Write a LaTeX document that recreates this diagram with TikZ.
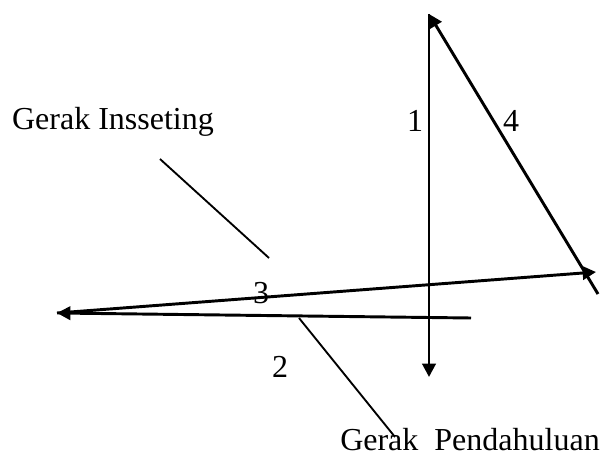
\documentclass[tikz,border=0pt]{standalone}
\usepackage{fontspec}
\setmainfont{Liberation Serif}
\usetikzlibrary{positioning, arrows.meta}

\begin{document}
\begin{tikzpicture}[x=0.375pt, y=-0.375pt, font=\fontsize{12}{14}\selectfont,
  move/.style={line width=1.1pt, -{Triangle[length=5pt, width=5pt]}},
  pointer/.style={line width=0.7pt}]
\useasboundingbox (0,0) rectangle (606,456);

% ends of the movement lines
\coordinate (top) at (429,14);
\coordinate (bottom) at (429,377);
\coordinate (left) at (57,313);
\coordinate (right) at (596,272);
\coordinate (tail4) at (598,294);
\coordinate (tail2) at (471,318);

\draw[move] (top) -- (bottom);
\draw[move] (tail2) -- (left);
\draw[move] (left) -- (right);
\draw[move] (tail4) -- (top);

% numbers
\node (n1) at (415,121) {1};
\node (n4) at (511,121) {4};
\node (n3) at (261,293) {3};
\node (n2) at (280,367) {2};

% labels and their pointers
\node (inset) at (113,122) {Gerak Insseting};
\node (pend) at (470,440) {Gerak~~Pendahuluan};
\coordinate (insetA) at (160,159);
\coordinate (insetB) at (269,258);
\coordinate (pendA) at (299,318);
\draw[pointer] (insetA) -- (insetB);
\draw[pointer] (pendA) -- (395,437);
\end{tikzpicture}
\end{document}
